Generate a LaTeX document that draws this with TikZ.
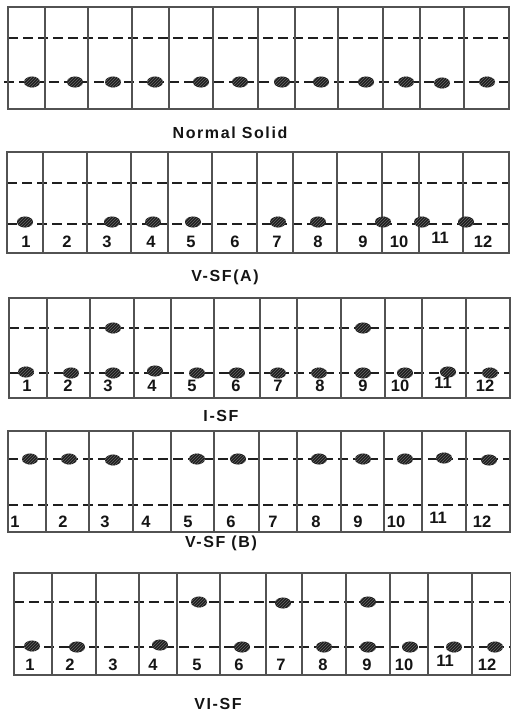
\documentclass[tikz,border=0pt]{standalone}
\usepackage{fontspec}
\setmainfont{Liberation Sans}
\usetikzlibrary{shapes.geometric,patterns}
\begin{document}
\begin{tikzpicture}[x=1pt,y=-1pt,
  cellline/.style={draw=black!68, line width=1.2pt},
  guide/.style={draw=black!88, line width=1.3pt, dash pattern=on 10pt off 5pt},
  atom/.style={ellipse, minimum width=16pt, minimum height=11pt, inner sep=0pt, fill=black!88,
    postaction={pattern=north east lines, pattern color=black!60}},
  num/.style={font=\bfseries\fontsize{16.5}{16.5}\selectfont, inner sep=0pt, text=black!92},
  title/.style={font=\bfseries\fontsize{16}{16}\selectfont\addfontfeatures{LetterSpace=10}, inner sep=0pt, text=black!92}]
\useasboundingbox (0,0) rectangle (511,715);

% ---------- Panel 1: Normal Solid ----------
\draw[guide] (8,38) -- (509,38);
\draw[guide] (4,82) -- (509,82);
\draw[cellline] (8,7) rectangle (509,109);
\foreach \x in {45,88,132,169,213,258,295,338,383,420,464}
  \draw[cellline] (\x,7) -- (\x,109);
\foreach \x/\y [count=\i] in {32/82,75/82,113/82,155/82,201/82,240/82,282/82,321/82,366/82,406/82,442/83,487/82}
  \node[atom] (a1-\i) at (\x,\y) {};
\node[title] (t1) at (230,133) {Normal Solid};

% ---------- Panel 2: V-SF(A) ----------
\draw[guide] (7,183) -- (509,183);
\draw[guide] (7,224) -- (509,224);
\draw[cellline] (7,152) rectangle (509,253);
\foreach \x in {43,87,131,168,212,257,293,337,382,419,463}
  \draw[cellline] (\x,152) -- (\x,253);
\foreach \x/\y [count=\i] in {25/222,112/222,153/222,193/222,278/222,318/222,383/222,422/222,466/222}
  \node[atom] (a2-\i) at (\x,\y) {};
\foreach \x/\y/\n in {26/242/1,67/242/2,107/242/3,151/242/4,191/242/5,235/242/6,277/242/7,318/242/8,363/242/9,399/242/10,440/238/11,483/242/12}
  \node[num] (n2-\n) at (\x,\y) {\n};
\node[title] (t2) at (225,277) {V-SF(A)};

% ---------- Panel 3: I-SF ----------
\draw[guide] (9,328) -- (510,328);
\draw[guide] (9,373) -- (510,373);
\draw[cellline] (9,298) rectangle (510,398);
\foreach \x in {47,90,134,171,214,260,297,341,385,422,466}
  \draw[cellline] (\x,298) -- (\x,398);
\foreach \x/\y [count=\i] in {26/372,71/373,113/373,155/371,197/373,237/373,278/373,319/373,363/373,405/373,448/372,490/373}
  \node[atom] (a3-\i) at (\x,\y) {};
\node[atom] (u3-1) at (113,328) {};
\node[atom] (u3-2) at (363,328) {};
\foreach \x/\y/\n in {27/386/1,68/386/2,108/386/3,152/386/4,192/386/5,236/386/6,278/386/7,320/386/8,363/386/9,400/386/10,443/383/11,485/386/12}
  \node[num] (n3-\n) at (\x,\y) {\n};
\node[title] (t3) at (221,416) {I-SF};

% ---------- Panel 4: V-SF (B) ----------
\draw[guide] (8,459) -- (510,459);
\draw[guide] (8,505) -- (510,505);
\draw[cellline] (8,431) rectangle (510,532);
\foreach \x in {46,89,133,171,214,259,297,341,384,422,466}
  \draw[cellline] (\x,431) -- (\x,532);
\foreach \x/\y [count=\i] in {30/459,69/459,113/460,197/459,238/459,319/459,363/459,405/459,444/458,489/460}
  \node[atom] (a4-\i) at (\x,\y) {};
\foreach \x/\y/\n in {15/522/1,63/522/2,105/522/3,146/522/4,188/522/5,231/522/6,273/522/7,316/522/8,358/522/9,396/522/10,438/518/11,482/522/12}
  \node[num] (n4-\n) at (\x,\y) {\n};
\node[title] (t4) at (221,543) {V-SF (B)};

% ---------- Panel 5: VI-SF ----------
\draw[guide] (14,602) -- (511,602);
\draw[guide] (14,647) -- (511,647);
\draw[cellline] (14,573) rectangle (511,675);
\foreach \x in {52,96,139,177,220,266,302,346,390,428,472}
  \draw[cellline] (\x,573) -- (\x,675);
\foreach \x/\y [count=\i] in {32/646,77/647,160/645,242/647,324/647,368/647,410/647,454/647,495/647}
  \node[atom] (a5-\i) at (\x,\y) {};
\foreach \x/\y [count=\i] in {199/602,283/603,368/602}
  \node[atom] (u5-\i) at (\x,\y) {};
\foreach \x/\y/\n in {30/665/1,70/665/2,113/665/3,153/665/4,197/665/5,239/665/6,281/665/7,323/665/8,367/665/9,404/665/10,445/661/11,487/665/12}
  \node[num] (n5-\n) at (\x,\y) {\n};
\node[title] (t5) at (218,704) {VI-SF};
\end{tikzpicture}
\end{document}
